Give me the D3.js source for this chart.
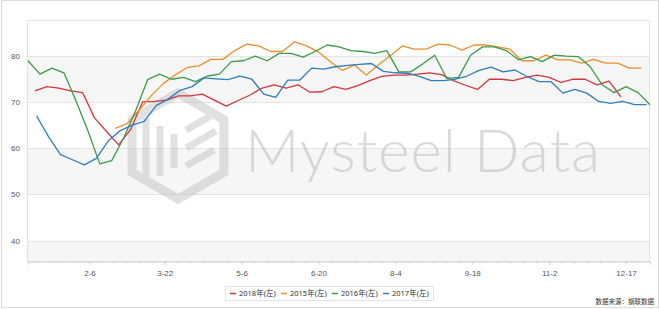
<!DOCTYPE html>
<html>
<head>
<meta charset="utf-8">
<script src="https://cdn.jsdelivr.net/npm/d3@7/dist/d3.min.js"></script>
<style>
  html, body { margin: 0; padding: 0; background: #fff; }
  svg { display: block; font-family: "Noto Sans", "Noto Sans CJK SC", sans-serif; }
  .grid line { stroke: #e4e4e4; stroke-width: 1px; }
  .axis text { fill: #555; }
  .line { fill: none; stroke-width: 1.3px; stroke-linejoin: round; }
</style>
</head>
<body>
<div id="chart"></div>
<script>
  // x轴刻度
  const xTickLabels = ['2-6', '3-22', '5-6', '6-20', '8-4', '9-18', '11-2', '12-17'];
  const yTicks = [40, 50, 60, 70, 80];

  const seriesNames = ['2018年(左)', '2015年(左)', '2016年(左)', '2017年(左)'];
  const seriesColors = ['#d3363b', '#ef8e2c', '#3b9a48', '#2f7dbb'];
  // 每个序列第一周的日期（月-日）
  const seriesStart = ['1-5', '2-21', '1-1', '1-6'];

  const v2018 = [72.4, 73.3, 73.0, 72.4, 72.0, 66.5, 63.6, 60.7, 64.0, 70.0,
    70.1, 70.4, 71.3, 71.3, 71.7, 70.4, 69.1, 70.3, 71.5, 73.0,
    73.7, 73.0, 73.7, 72.1, 72.2, 73.3, 72.7, 73.5, 74.6, 75.5,
    75.8, 75.8, 76.0, 76.3, 75.9, 74.6, 73.6, 72.7, 74.9, 74.9,
    74.6, 75.3, 75.8, 75.3, 74.2, 74.9, 74.9, 73.7, 74.5, 71.1];

  const v2015 = [64.3, 65.3, 68.2, 71.3, 73.9, 75.8, 77.4, 77.8, 79.2, 79.2,
    81.1, 82.5, 82.1, 80.9, 80.9, 83.0, 82.1, 80.8, 78.7, 76.8,
    78.0, 75.8, 78.0, 80.0, 82.1, 81.4, 81.4, 82.5, 82.3, 81.2,
    82.3, 82.3, 81.9, 81.4, 78.9, 78.9, 80.1, 79.1, 79.1, 78.4,
    79.2, 78.4, 78.4, 77.3, 77.3];

  const v2016 = [78.9, 76.0, 77.3, 76.3, 70.3, 63.8, 56.6, 57.3, 62.2, 68.1,
    74.8, 76.0, 74.9, 75.3, 74.4, 75.6, 76.0, 78.7, 78.9, 79.9,
    78.9, 80.5, 80.5, 79.7, 80.9, 82.3, 81.9, 81.1, 80.9, 80.5,
    81.1, 76.5, 76.5, 78.2, 80.1, 75.1, 75.3, 80.1, 81.9, 81.9,
    81.1, 79.1, 79.8, 78.7, 80.1, 79.9, 79.8, 77.6, 73.7, 72.0,
    73.3, 72.0, 69.4];

  const v2017 = [67.0, 62.5, 58.6, 57.5, 56.4, 57.8, 61.6, 63.8, 65.0, 65.8,
    69.2, 70.6, 72.5, 73.3, 75.2, 75.0, 74.8, 75.6, 74.9, 71.7,
    71.0, 74.7, 74.7, 77.3, 77.1, 77.6, 77.9, 78.1, 78.3, 76.6,
    76.3, 76.2, 75.5, 74.6, 74.6, 74.9, 75.6, 76.8, 77.5, 76.5,
    76.9, 75.5, 74.4, 74.4, 71.9, 72.7, 71.9, 70.1, 69.7, 70.1,
    69.4, 69.4];

  const seriesValues = [v2018, v2015, v2016, v2017];

  const width = 660;
  const height = 309;
  const plot = {left: 27, right: 650, top: 20.5, bottom: 261.5};

  const parseMD = d3.utcParse('%Y-%m-%d');
  const md = function(s) { return parseMD('2018-' + s.split('-').map(function(p) { return p.padStart(2, '0'); }).join('-')); };

  const scaleX = d3.scaleUtc()
    .domain([md('1-1'), md('12-31')])
    .range([28, 650]);

  const scaleY = d3.scaleLinear()
    .domain([35.5, 87.6])
    .range([plot.bottom, plot.top]);

  const svg = d3.select('#chart').append('svg')
    .attr('width', width)
    .attr('height', height);

  // 外框
  svg.append('rect')
    .attr('x', 1.5).attr('y', 0.5)
    .attr('width', width - 3).attr('height', height - 2)
    .attr('fill', '#fff').attr('stroke', '#dcdcdc');

  // 灰白相间的背景带
  const bands = svg.append('g');
  yTicks.forEach(function(t, i) {
    if (i % 2 !== 0) return;
    const lo = i === 0 ? scaleY.domain()[0] : yTicks[i - 1];
    bands.append('rect')
      .attr('x', plot.left).attr('width', plot.right - plot.left)
      .attr('y', scaleY(t)).attr('height', scaleY(lo) - scaleY(t))
      .attr('fill', '#f6f6f6');
  });

  // 网格线
  svg.append('g').attr('class', 'grid')
    .selectAll('line').data(yTicks).join('line')
    .attr('x1', plot.left).attr('x2', plot.right)
    .attr('y1', function(d) { return Math.round(scaleY(d)) + 0.5; })
    .attr('y2', function(d) { return Math.round(scaleY(d)) + 0.5; });

  // 绘图区边框
  svg.append('rect')
    .attr('x', plot.left + 0.5).attr('y', plot.top)
    .attr('width', plot.right - plot.left - 1).attr('height', plot.bottom - plot.top)
    .attr('fill', 'none').attr('stroke', '#e2e2e2');

  // 水印
  const wm = svg.append('g').attr('opacity', 0.45);
  const cx = 178, cy = 146, r = 53;
  const hex = d3.range(6).map(function(k) {
    const a = Math.PI / 3 * k - Math.PI / 2;
    return [cx + r * Math.cos(a), cy + r * Math.sin(a)];
  });
  wm.append('path')
    .attr('d', 'M' + hex.join('L') + 'Z')
    .attr('fill', 'none').attr('stroke', '#bdbdbd').attr('stroke-width', 9)
    .attr('stroke-linejoin', 'miter');
  [[146, 118, 184], [160, 126, 176], [174, 134, 168]].forEach(function(b) {
    wm.append('line')
      .attr('x1', b[0]).attr('x2', b[0]).attr('y1', b[1]).attr('y2', b[2])
      .attr('stroke', '#bdbdbd').attr('stroke-width', 7);
  });
  [[186, 130, 214, 114], [186, 148, 216, 131], [186, 166, 214, 150]].forEach(function(b) {
    wm.append('line')
      .attr('x1', b[0]).attr('y1', b[1]).attr('x2', b[2]).attr('y2', b[3])
      .attr('stroke', '#bdbdbd').attr('stroke-width', 7);
  });
  wm.append('text')
    .attr('x', 245).attr('y', 172)
    .attr('font-family', 'Lato, "Open Sans", sans-serif')
    .attr('font-weight', 300)
    .attr('font-size', 60)
    .attr('textLength', 355)
    .attr('fill', '#b0b0b0')
    .text('Mysteel Data');

  // 坐标轴
  const xAxis = d3.axisBottom(scaleX)
    .tickValues(xTickLabels.map(md))
    .tickFormat(function(d) { return (d.getUTCMonth() + 1) + '-' + d.getUTCDate(); })
    .tickSize(3)
    .tickPadding(6);

  const gx = svg.append('g')
    .attr('class', 'axis')
    .attr('transform', 'translate(0,' + plot.bottom + ')')
    .call(xAxis);
  gx.select('.domain').attr('stroke', '#cfcfcf');
  gx.selectAll('.tick line').attr('stroke', '#cfcfcf');
  gx.selectAll('text').attr('font-size', 8);

  // x轴小刻度
  const minor = [];
  xTickLabels.map(md).forEach(function(d) {
    for (let k = -6; k < 6; k++) minor.push(d3.utcHour.offset(d, Math.round(k * 7.5 * 24)));
  });
  gx.selectAll('.minor').data(minor.filter(function(d) {
      return scaleX(d) > plot.left && scaleX(d) < plot.right;
    })).join('line')
    .attr('class', 'minor')
    .attr('x1', function(d) { return scaleX(d); })
    .attr('x2', function(d) { return scaleX(d); })
    .attr('y1', 0).attr('y2', 2)
    .attr('stroke', '#dadada');

  const yAxis = d3.axisLeft(scaleY)
    .tickValues(yTicks)
    .tickSize(0)
    .tickPadding(7);

  const gy = svg.append('g')
    .attr('class', 'axis')
    .attr('transform', 'translate(' + plot.left + ',0)')
    .call(yAxis);
  gy.select('.domain').remove();
  gy.selectAll('text').attr('font-size', 8);

  // 曲线
  const line = d3.line()
    .x(function(d) { return scaleX(d.date); })
    .y(function(d) { return scaleY(d.value); });

  seriesValues.forEach(function(vals, i) {
    const start = md(seriesStart[i]);
    const pts = vals.map(function(v, k) {
      return {date: d3.utcDay.offset(start, k * 7), value: v};
    });
    svg.append('path')
      .datum(pts)
      .attr('class', 'line')
      .attr('stroke', seriesColors[i])
      .attr('d', line);
  });

  // 图例
  const legend = svg.append('g');
  legend.append('rect')
    .attr('x', 225.5).attr('y', 286.5)
    .attr('width', 208).attr('height', 14)
    .attr('fill', '#fff').attr('stroke', '#e2e2e2');
  seriesNames.forEach(function(name, i) {
    const g = legend.append('g').attr('transform', 'translate(' + (230 + i * 51) + ',293.5)');
    g.append('line')
      .attr('x1', 0).attr('x2', 6)
      .attr('stroke', seriesColors[i]).attr('stroke-width', 1.5);
    g.append('text')
      .attr('x', 9).attr('dy', '0.35em')
      .attr('font-size', 7.5).attr('fill', '#333')
      .text(name);
  });

  svg.append('text')
    .attr('x', 654).attr('y', 304)
    .attr('text-anchor', 'end')
    .attr('font-size', 6.5).attr('fill', '#333')
    .text('数据来源：钢联数据');
</script>
</body>
</html>
